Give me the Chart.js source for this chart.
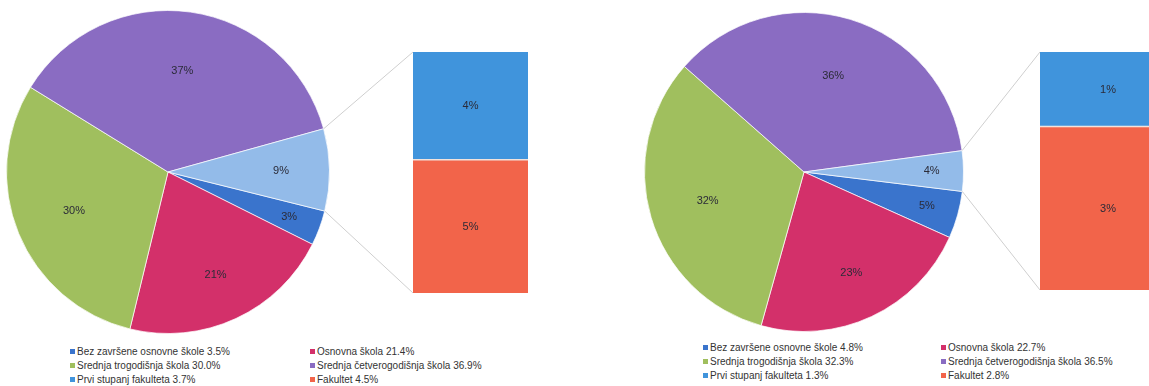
<!DOCTYPE html>
<html>
<head>
<meta charset="utf-8">
<script src="https://cdn.jsdelivr.net/npm/chart.js@4"></script>
<style>
  body { margin: 0; background: #fff; width: 1149px; height: 386px; overflow: hidden; position: relative; font-family: "Liberation Sans", Arial, sans-serif; }
  .box { position: absolute; }
  .legend { position: absolute; font-size: 10px; color: #333; }
  .legend div { position: absolute; white-space: nowrap; line-height: 12px; }
  .legend span { display: inline-block; width: 5px; height: 5px; margin-right: 2px; vertical-align: 1px; }
</style>
</head>
<body>
<div class="box" id="pieLBox" style="left:0;top:0;width:580px;height:340px"><canvas id="pieL"></canvas></div>
<div class="box" id="barLBox" style="left:413px;top:52px;width:115px;height:241px"><canvas id="barL"></canvas></div>
<div class="box" id="pieRBox" style="left:580px;top:0;width:569px;height:340px"><canvas id="pieR"></canvas></div>
<div class="box" id="barRBox" style="left:1040px;top:52px;width:136px;height:238px"><canvas id="barR"></canvas></div>
<div class="legend" id="legL" style="left:70px;top:346px"></div>
<div class="legend" id="legR" style="left:703px;top:342px"></div>
<script>
// categories (pie part + bar part)
const pieNames = ['Bez završene osnovne škole', 'Osnovna škola', 'Srednja trogodišnja škola', 'Srednja četverogodišnja škola'];
const barNames = ['Prvi stupanj fakulteta', 'Fakultet'];

// left chart
const leftPie = [3.5, 21.4, 30.0, 36.9];
const leftBar = [3.7, 4.5];
const leftPieLabels = ['3%', '21%', '30%', '37%', '9%'];
const leftBarLabels = ['4%', '5%'];

// right chart
const rightPie = [4.8, 22.7, 32.3, 36.5];
const rightBar = [1.3, 2.8];
const rightPieLabels = ['5%', '23%', '32%', '36%', '4%'];
const rightBarLabels = ['1%', '3%'];

const pieColors = ['#3a74cc', '#d3306a', '#a0bf5e', '#8a6cc2', '#93bbe9'];
const barColors = ['#4094dc', '#f2644a'];

const labelFont = '11px "Liberation Sans", Arial, sans-serif';

const pieLabelPlugin = {
  id: 'pieLabels',
  afterDatasetsDraw(chart) {
    const ctx = chart.ctx;
    const ds = chart.data.datasets[0];
    ctx.save();
    ctx.font = labelFont;
    ctx.fillStyle = '#2b2b38';
    ctx.textAlign = 'center';
    ctx.textBaseline = 'middle';
    chart.getDatasetMeta(0).data.forEach((arc, i) => {
      const span = arc.endAngle - arc.startAngle;
      const mid = (arc.startAngle + arc.endAngle) / 2;
      const f = span < 0.4 ? 0.8 : (span < 1.5 ? 0.7 : 0.63);
      ctx.fillText(ds.printed[i], arc.x + Math.cos(mid) * arc.outerRadius * f, arc.y + Math.sin(mid) * arc.outerRadius * f);
    });
    ctx.restore();
  }
};

const barLabelPlugin = {
  id: 'barLabels',
  afterDatasetsDraw(chart) {
    const ctx = chart.ctx;
    ctx.save();
    ctx.font = labelFont;
    ctx.fillStyle = '#2b2b38';
    ctx.textAlign = 'center';
    ctx.textBaseline = 'middle';
    chart.data.datasets.forEach((ds, d) => {
      const el = chart.getDatasetMeta(d).data[0];
      ctx.fillText(ds.printed, el.x, (el.y + el.base) / 2);
    });
    ctx.restore();
  }
};

function makeBar(id, values, printed) {
  // Fakultet at the bottom, Prvi stupanj on top
  return new Chart(document.getElementById(id), {
    type: 'bar',
    data: {
      labels: [''],
      datasets: [
        { label: barNames[1], data: [values[1]], backgroundColor: barColors[1], printed: printed[1] },
        { label: barNames[0], data: [values[0]], backgroundColor: barColors[0], printed: printed[0],
          borderColor: '#f3e3dc', borderWidth: { bottom: 2 }, borderSkipped: false }
      ]
    },
    options: {
      animation: false,
      responsive: true,
      maintainAspectRatio: false,
      layout: { padding: 0 },
      datasets: { bar: { barPercentage: 1, categoryPercentage: 1 } },
      plugins: { legend: { display: false }, tooltip: { enabled: false } },
      scales: {
        x: { display: false, stacked: true },
        y: { display: false, stacked: true, min: 0, max: values[0] + values[1] }
      }
    },
    plugins: [barLabelPlugin]
  });
}

function makePie(id, values, barValues, printed, rotation, padding, barChart, pieBox, barBox) {
  const connector = {
    id: 'connector',
    afterDraw(chart) {
      const arc = chart.getDatasetMeta(0).data[4];
      const pb = document.getElementById(pieBox), bb = document.getElementById(barBox);
      const ox = bb.offsetLeft - pb.offsetLeft, oy = bb.offsetTop - pb.offsetTop;
      const bottom = barChart.getDatasetMeta(0).data[0];
      const top = barChart.getDatasetMeta(1).data[0];
      const ctx = chart.ctx;
      ctx.save();
      ctx.strokeStyle = '#cfcfcf';
      ctx.lineWidth = 1;
      ctx.beginPath();
      ctx.moveTo(arc.x + Math.cos(arc.startAngle) * arc.outerRadius, arc.y + Math.sin(arc.startAngle) * arc.outerRadius);
      ctx.lineTo(ox + top.x - top.width / 2, oy + top.y);
      ctx.moveTo(arc.x + Math.cos(arc.endAngle) * arc.outerRadius, arc.y + Math.sin(arc.endAngle) * arc.outerRadius);
      ctx.lineTo(ox + bottom.x - bottom.width / 2, oy + bottom.base);
      ctx.stroke();
      ctx.restore();
    }
  };
  return new Chart(document.getElementById(id), {
    type: 'pie',
    data: {
      labels: pieNames.concat(['Ostalo']),
      datasets: [{
        data: values.concat([barValues[0] + barValues[1]]),
        backgroundColor: pieColors,
        borderColor: 'rgba(255,255,255,0.7)',
        borderWidth: 1,
        printed: printed
      }]
    },
    options: {
      animation: false,
      responsive: true,
      maintainAspectRatio: false,
      rotation: rotation,
      layout: { padding: padding },
      plugins: { legend: { display: false }, tooltip: { enabled: false } }
    },
    plugins: [pieLabelPlugin, connector]
  });
}

function buildLegend(id, pieVals, barVals, colX, rowH) {
  const names = pieNames.concat(barNames);
  const vals = pieVals.concat(barVals);
  const cols = pieColors.slice(0, 4).concat(barColors);
  const el = document.getElementById(id);
  names.forEach((n, i) => {
    const d = document.createElement('div');
    d.style.left = colX[i % 2] + 'px';
    d.style.top = Math.floor(i / 2) * rowH + 'px';
    d.innerHTML = '<span style="background:' + cols[i] + '"></span>' + n + ' ' + vals[i].toFixed(1) + '%';
    el.appendChild(d);
  });
}

const barL = makeBar('barL', leftBar, leftBarLabels);
const barR = makeBar('barR', rightBar, rightBarLabels);
makePie('pieL', leftPie, leftBar, leftPieLabels, 104, { left: 6, right: 250, top: 10, bottom: 6 }, barL, 'pieLBox', 'barLBox');
makePie('pieR', rightPie, rightBar, rightPieLabels, 97, { left: 64, right: 185, top: 12, bottom: 8 }, barR, 'pieRBox', 'barRBox');

buildLegend('legL', leftPie, leftBar, [0, 240], 14);
buildLegend('legR', rightPie, rightBar, [0, 238], 14);
</script>
</body>
</html>
